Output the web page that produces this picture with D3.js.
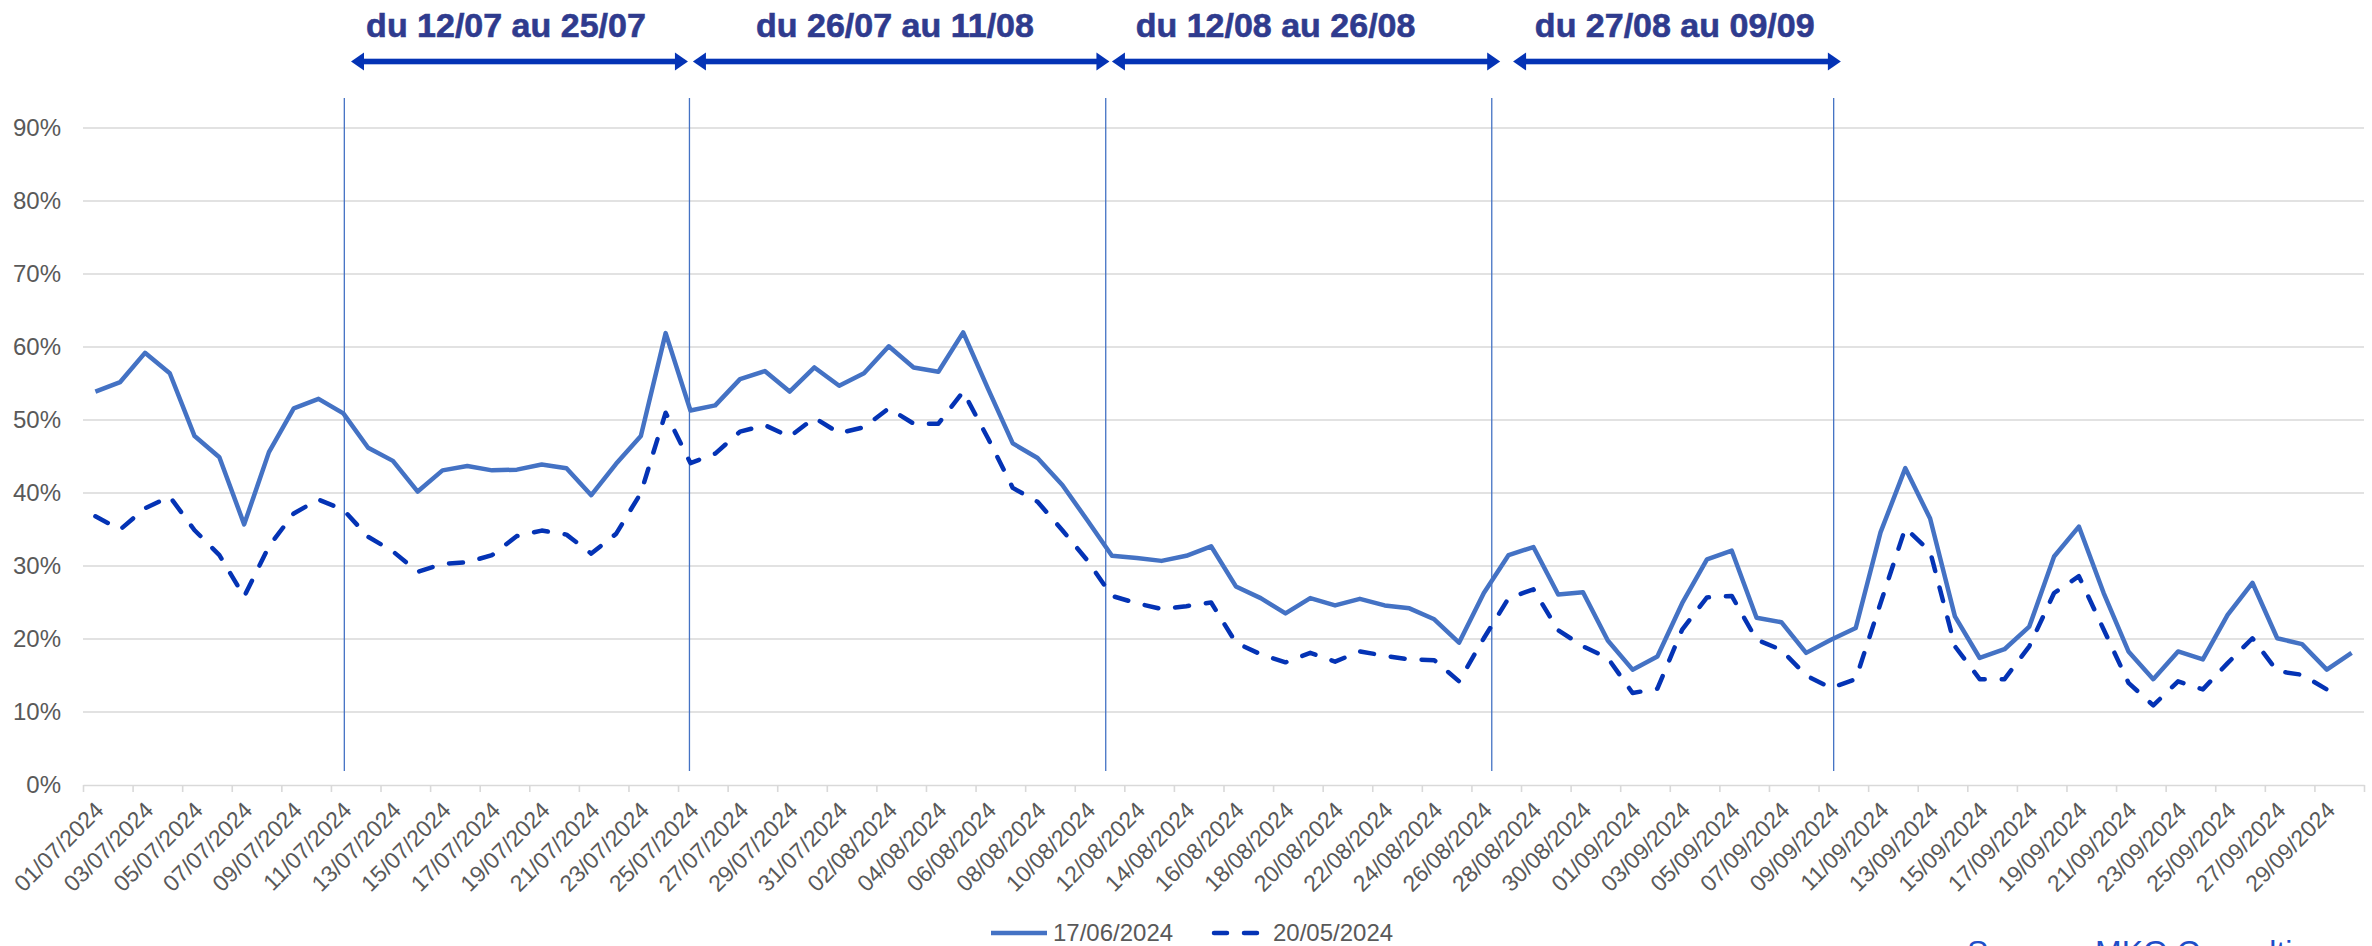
<!DOCTYPE html>
<html lang="fr">
<head>
<meta charset="UTF-8">
<title>Taux d'occupation - comparaison</title>
<script src="https://d3js.org/d3.v7.min.js"></script>
<style>
    html, body { margin: 0; padding: 0; overflow: hidden; background: #fff; }
    svg { display: block; font-family: "Liberation Sans", Arial, sans-serif; }
</style>
</head>
<body>
<svg id="chart" width="2372" height="946"></svg>
<script>
// daily categories, 01/07/2024 -> 30/09/2024
const days = d3.timeDay.range(new Date(2024, 6, 1), new Date(2024, 9, 1));

// series values in %
const serie1706 = [53.9, 55.2, 59.2, 56.4, 47.8, 44.9, 35.7, 45.6, 51.6, 52.9,
    50.9, 46.2, 44.4, 40.2, 43.1, 43.7, 43.1, 43.2, 43.9, 43.4,
    39.7, 44.0, 47.8, 61.9, 51.3, 52.0, 55.6, 56.7, 53.9, 57.2,
    54.7, 56.4, 60.1, 57.2, 56.6, 62.0, 54.3, 46.8, 44.8, 41.1,
    36.3, 31.4, 31.1, 30.7, 31.4, 32.7, 27.2, 25.6, 23.5, 25.6,
    24.6, 25.5, 24.6, 24.2, 22.7, 19.5, 26.3, 31.5, 32.6, 26.1,
    26.4, 19.8, 15.8, 17.6, 24.9, 30.9, 32.1, 22.9, 22.3, 18.1,
    19.9, 21.5, 34.6, 43.4, 36.5, 23.1, 17.4, 18.6, 21.7, 31.3,
    35.4, 26.3, 18.3, 14.5, 18.3, 17.2, 23.3, 27.7, 20.1, 19.3,
    15.8, 18.1];
const serie2005 = [36.8, 35.0, 37.9, 39.5, 34.9, 31.5, 25.8, 32.7, 37.2, 39.1,
    37.7, 34.0, 32.0, 29.2, 30.3, 30.5, 31.5, 34.1, 34.85, 34.3,
    31.7, 34.4, 40.0, 51.0, 44.1, 45.4, 48.4, 49.3, 47.7, 50.3,
    48.2, 49.0, 51.6, 49.5, 49.5, 53.9, 47.5, 40.7, 38.8, 34.9,
    30.8, 25.9, 24.9, 24.1, 24.5, 25.0, 19.5, 17.9, 16.8, 18.1,
    16.9, 18.3, 17.7, 17.2, 17.1, 14.2, 20.1, 25.6, 26.8, 21.2,
    19.0, 17.4, 12.6, 13.2, 21.3, 25.7, 25.9, 19.9, 18.5, 15.0,
    13.3, 14.5, 24.9, 35.2, 32.0, 19.0, 14.5, 14.5, 19.0, 26.3,
    28.6, 21.3, 14.0, 10.9, 14.2, 13.1, 16.7, 20.1, 15.6, 15.1,
    13.1, null];
const seriesNames = ["17/06/2024", "20/05/2024"];

const yTicks = [0, 10, 20, 30, 40, 50, 60, 70, 80, 90];

// periods above the chart (positions in day index, 0 = 01/07)
const periodLabels = ["du 12/07 au 25/07", "du 26/07 au 11/08", "du 12/08 au 26/08", "du 27/08 au 09/09"];
const periodStart = [10.31, 24.1, 41.0, 57.18];
const periodEnd = [23.9, 40.9, 56.66, 70.4];
const periodLabelPos = [16.56, 32.25, 47.6, 63.7];
const separators = [10.04, 23.96, 40.75, 56.32, 70.11];

const svg = d3.select("#chart");
const plot = {left: 83, right: 2364, top: 128, bottom: 785};

// index scale: day i sits at the centre of its slot
const xi = d3.scaleLinear().domain([0, days.length]).range([plot.left, plot.right]);
const xc = i => xi(i + 0.5);
const y = d3.scaleLinear().domain([0, 90]).range([plot.bottom, plot.top]);

// gridlines
svg.append("g").selectAll("line").data(yTicks.filter(t => t > 0)).join("line")
    .attr("x1", plot.left).attr("x2", plot.right)
    .attr("y1", d => y(d)).attr("y2", d => y(d))
    .attr("stroke", "#d9d9d9").attr("stroke-width", 1.6);

// y labels
svg.append("g").selectAll("text").data(yTicks).join("text")
    .attr("x", 61).attr("y", d => y(d)).attr("dy", "0.35em")
    .attr("text-anchor", "end")
    .attr("font-size", 24).attr("fill", "#595959")
    .text(d => d + "%");

// x axis: line + tick marks every two days
const xAxis = d3.axisBottom(xi)
    .tickValues(d3.range(0, days.length + 1, 2))
    .tickFormat("").tickSize(7).tickSizeOuter(0);
const gx = svg.append("g").attr("transform", `translate(0,${plot.bottom})`).call(xAxis);
gx.select(".domain").attr("stroke", "#d9d9d9").attr("stroke-width", 1.6);
gx.selectAll(".tick line").attr("stroke", "#d9d9d9").attr("stroke-width", 1.6);

// x labels, every other day, rotated
const fmt = d3.timeFormat("%d/%m/%Y");
svg.append("g").selectAll("text")
    .data(days.map((d, i) => ({d, i})).filter(o => o.i % 2 === 0))
    .join("text")
    .attr("transform", o => `translate(${xc(o.i) - 2},${plot.bottom + 15}) rotate(-45)`)
    .attr("text-anchor", "end").attr("dy", "0.72em")
    .attr("font-size", 23).attr("fill", "#595959")
    .text(o => fmt(o.d));

// separators
svg.append("g").selectAll("line").data(separators).join("line")
    .attr("x1", d => xi(d + 0.5)).attr("x2", d => xi(d + 0.5))
    .attr("y1", 98).attr("y2", 771)
    .attr("stroke", "#4472c4").attr("stroke-width", 1.3);

// series
const line = d3.line()
    .defined(d => d != null)
    .x((d, i) => xc(i))
    .y(d => y(d));

svg.append("path").datum(serie2005)
    .attr("d", line).attr("fill", "none")
    .attr("stroke", "#0433b5").attr("stroke-width", 4.5)
    .attr("stroke-dasharray", "14 17")
    .attr("stroke-linecap", "round").attr("stroke-linejoin", "round");

svg.append("path").datum(serie1706)
    .attr("d", line).attr("fill", "none")
    .attr("stroke", "#4472c4").attr("stroke-width", 4.5)
    .attr("stroke-linejoin", "round");

// period arrows
const arrowY = 61.5, headL = 13, headW = 9;
const arrows = svg.append("g").attr("fill", "#0433b5");
periodLabels.forEach((lab, k) => {
    const a = xc(periodStart[k]), b = xc(periodEnd[k]);
    arrows.append("rect")
        .attr("x", a + headL - 1).attr("y", arrowY - 2.8)
        .attr("width", b - a - 2 * headL + 2).attr("height", 5.6);
    arrows.append("path")
        .attr("d", `M${a},${arrowY} L${a + headL},${arrowY - headW} L${a + headL},${arrowY + headW} Z`);
    arrows.append("path")
        .attr("d", `M${b},${arrowY} L${b - headL},${arrowY - headW} L${b - headL},${arrowY + headW} Z`);
    svg.append("text")
        .attr("x", xc(periodLabelPos[k])).attr("y", 37)
        .attr("text-anchor", "middle")
        .attr("font-size", 34).attr("font-weight", "bold")
        .attr("fill", "#2f3b8e").attr("stroke", "#2f3b8e").attr("stroke-width", 0.6)
        .text(lab);
});

// legend
const legend = svg.append("g");
legend.append("line").attr("x1", 991).attr("x2", 1047).attr("y1", 933).attr("y2", 933)
    .attr("stroke", "#4472c4").attr("stroke-width", 4.5);
legend.append("text").attr("x", 1053).attr("y", 933).attr("dy", "0.35em")
    .attr("font-size", 24).attr("fill", "#595959").text(seriesNames[0]);
legend.append("line").attr("x1", 1214).attr("x2", 1259).attr("y1", 933).attr("y2", 933)
    .attr("stroke", "#0433b5").attr("stroke-width", 4.5)
    .attr("stroke-dasharray", "13 17").attr("stroke-linecap", "round");
legend.append("text").attr("x", 1273).attr("y", 933).attr("dy", "0.35em")
    .attr("font-size", 24).attr("fill", "#595959").text(seriesNames[1]);

// source, cut by the bottom edge as in the original
svg.append("text").attr("x", 1967).attr("y", 963)
    .attr("font-size", 32).attr("fill", "#1f4ec8")
    .text("Source : MKG Consulting");
</script>
</body>
</html>
